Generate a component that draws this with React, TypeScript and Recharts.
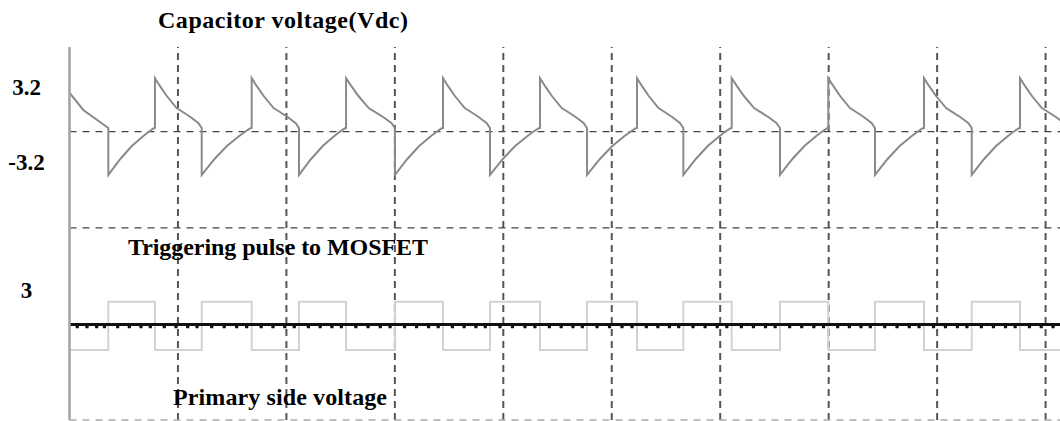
import React from 'react';
import { ComposedChart, Line, XAxis, YAxis, ReferenceLine } from 'recharts';

// Time axis: 100 units per horizontal division; level axis: 100 units per vertical division
const timeDomainEnd = 913.3;
const levelDomainEnd = 388.1;
const gridTimes = [100, 200, 300, 400, 500, 600, 700, 800, 900];
const gridLevels = [100, 200, 300];
const baseLevel = 0;

// Tick labels on the left and the levels they sit at
const tickLabels = ['3.2', '-3.2', '3'];
const tickLevels = [346, 268, 134.8];

// MOSFET gate pulse edges
const pulseRiseTimes = [35.8, 121.9, 211.6, 300.1, 387.7, 477.2, 566.0, 655.1, 742.7, 831.9, 920.0];
const pulseFallTimes = [78.8, 168.0, 255.0, 344.4, 433.8, 523.3, 610.6, 699.7, 787.9, 876.4];
const pulseHigh = 123.1;
const pulseLow = 72.8;

// Capacitor voltage: opening segment, then per-cycle shape (decay after each peak, recovery after each drop)
const capStartTimes = [0, 12.7, 35.8];
const capStartValues = [340.6, 322.6, 303.8];
const capDecayFractions = [0, 0.105, 0.253, 0.463, 0.547, 0.758, 0.926, 1];
const capDecayValues = [355.6, 347.6, 337.1, 324.6, 322.0, 315.3, 309.1, 303.8];
const capRiseFractions = [0, 0.257, 0.504, 0.751, 0.874, 0.967, 1];
const capRiseValues = [255.0, 271.6, 285.1, 295.5, 300.2, 303.3, 303.8];

// Primary side voltage: flat trace with small downward spikes
const primaryLevel = 99.3;
const primarySpikeLevel = 95.6;
const primarySpikeFractions = [0.2, 0.45, 0.7, 0.9];

type Pt = { t: number; v: number };

function buildPulse(): Pt[] {
  const edges: { t: number; rise: boolean }[] = [
    ...pulseRiseTimes.map((t) => ({ t, rise: true })),
    ...pulseFallTimes.map((t) => ({ t, rise: false })),
  ].sort((a, b) => a.t - b.t);
  const pts: Pt[] = [{ t: 0, v: pulseLow }];
  edges.forEach((e) => {
    if (e.rise) {
      pts.push({ t: e.t, v: pulseLow }, { t: e.t, v: pulseHigh });
    } else {
      pts.push({ t: e.t, v: pulseHigh }, { t: e.t, v: pulseLow });
    }
  });
  pts.push({ t: timeDomainEnd + 20, v: pts[pts.length - 1].v });
  return pts;
}

function buildCap(): Pt[] {
  const pts: Pt[] = capStartTimes.map((t, i) => ({ t, v: capStartValues[i] }));
  for (let k = 0; k < pulseFallTimes.length; k++) {
    const drop = pulseRiseTimes[k];
    const peak = pulseFallTimes[k];
    capRiseFractions.forEach((f, i) => pts.push({ t: drop + f * (peak - drop), v: capRiseValues[i] }));
    const nextDrop = pulseRiseTimes[k + 1];
    capDecayFractions.forEach((f, i) => pts.push({ t: peak + f * (nextDrop - peak), v: capDecayValues[i] }));
  }
  pts.push({ t: pulseRiseTimes[pulseRiseTimes.length - 1], v: capRiseValues[0] });
  return pts;
}

function buildPrimary(): Pt[] {
  const edges = [0, ...pulseRiseTimes, ...pulseFallTimes].sort((a, b) => a - b);
  const pts: Pt[] = [];
  for (let i = 0; i < edges.length - 1; i++) {
    const a = edges[i];
    const b = edges[i + 1];
    pts.push({ t: a, v: primaryLevel });
    primarySpikeFractions.forEach((f) => {
      const c = a + f * (b - a);
      pts.push({ t: c - 0.3, v: primaryLevel }, { t: c, v: primarySpikeLevel }, { t: c + 0.3, v: primaryLevel });
    });
  }
  pts.push({ t: edges[edges.length - 1], v: primaryLevel });
  return pts;
}

const pulseData = buildPulse();
const capData = buildCap();
const primaryData = buildPrimary();

const serif = '"Liberation Serif", "Times New Roman", serif';

const LeftTick = (props: any) => {
  const { y, payload } = props;
  const idx = tickLevels.indexOf(payload.value);
  return (
    <text x={26.5} y={y + 7.5} textAnchor="middle" fontFamily={serif} fontWeight="bold" fontSize={23} fill="#000">
      {idx >= 0 ? tickLabels[idx] : ''}
    </text>
  );
};

export default function App() {
  return (
    <div style={{ position: 'absolute', left: 0, top: 0, width: 1060, height: 421, background: '#fff' }}>
      <ComposedChart
        width={1060}
        height={421}
        margin={{ top: 47, right: 0, bottom: 1, left: 0 }}
      >
        <XAxis dataKey="t" type="number" domain={[0, timeDomainEnd]} allowDataOverflow hide />
        <YAxis
          type="number"
          domain={[0, levelDomainEnd]}
          allowDataOverflow
          width={69.5}
          ticks={tickLevels}
          tick={<LeftTick />}
          tickLine={false}
          axisLine={{ stroke: '#a3a3a3', strokeWidth: 2.5 }}
          interval={0}
        />
        {gridTimes.map((t) => (
          <ReferenceLine key={'vx' + t} x={t} stroke="#555" strokeWidth={2} strokeDasharray="7 5" />
        ))}
        {gridLevels.map((l) => (
          <ReferenceLine key={'hy' + l} y={l} stroke="#444" strokeWidth={1.3} strokeDasharray="7 6" />
        ))}
        <ReferenceLine y={baseLevel} stroke="#aaa" strokeWidth={1.5} strokeDasharray="7 6" />
        <Line data={pulseData} dataKey="v" type="linear" stroke="#d2d2d2" strokeWidth={2} dot={false} isAnimationActive={false} />
        <Line data={capData} dataKey="v" type="linear" stroke="#8a8a8a" strokeWidth={2} dot={false} isAnimationActive={false} />
        <Line data={primaryData} dataKey="v" type="linear" stroke="#111" strokeWidth={3} dot={false} isAnimationActive={false} />
      </ComposedChart>
      <svg width={1060} height={421} style={{ position: 'absolute', left: 0, top: 0, pointerEvents: 'none' }}>
        <text x={158} y={28} fontFamily={serif} fontWeight="bold" fontSize={24} fill="#000" textLength={250} lengthAdjust="spacing">
          Capacitor voltage(Vdc)
        </text>
        <text x={128} y={255} fontFamily={serif} fontWeight="bold" fontSize={24} fill="#000" textLength={300} lengthAdjust="spacing">
          Triggering pulse to MOSFET
        </text>
        <text x={173} y={405} fontFamily={serif} fontWeight="bold" fontSize={24} fill="#000" textLength={214} lengthAdjust="spacing">
          Primary side voltage
        </text>
      </svg>
    </div>
  );
}
